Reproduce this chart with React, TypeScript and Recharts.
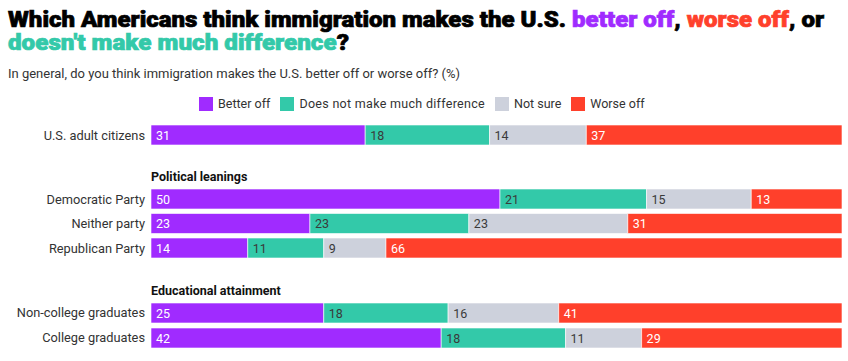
import { BarChart, Bar, XAxis, YAxis, LabelList } from "recharts";

const FONT = "Roboto, 'Noto Sans', sans-serif";

const OVERALL_ROWS = ["U.S. adult citizens"];
const PARTY_ROWS = ["Democratic Party", "Neither party", "Republican Party"];
const EDU_ROWS = ["Non-college graduates", "College graduates"];

// values in row order: overall, party rows, education rows
const BETTER_OFF = [31, 50, 23, 14, 25, 42];
const NO_DIFFERENCE = [18, 21, 23, 11, 18, 18];
const NOT_SURE = [14, 15, 23, 9, 16, 11];
const WORSE_OFF = [37, 13, 31, 66, 41, 29];

const SECTION_TITLES = ["Political leanings", "Educational attainment"];

const SERIES = [
  { key: "better", name: "Better off", color: "#a02bff", label: "#ffffff", values: BETTER_OFF },
  { key: "nodiff", name: "Does not make much difference", color: "#33c9a9", label: "#3a3a3a", values: NO_DIFFERENCE },
  { key: "unsure", name: "Not sure", color: "#cdd1dc", label: "#3a3a3a", values: NOT_SURE },
  { key: "worse", name: "Worse off", color: "#ff402b", label: "#ffffff", values: WORSE_OFF },
];

const ALL_ROWS = [...OVERALL_ROWS, ...PARTY_ROWS, ...EDU_ROWS];
const TABLE = ALL_ROWS.map((label, i) => {
  const row: Record<string, any> = { label };
  SERIES.forEach((s) => (row[s.key] = s.values[i]));
  return row;
});

const nOverall = OVERALL_ROWS.length;
const nParty = PARTY_ROWS.length;
const GROUPS = [
  { rows: TABLE.slice(0, nOverall), top: 123, height: 24 },
  { rows: TABLE.slice(nOverall, nOverall + nParty), top: 186.75, height: 73.5 },
  { rows: TABLE.slice(nOverall + nParty), top: 299.5, height: 50 },
];

function Group({ rows, top, height }: { rows: any[]; top: number; height: number }) {
  return (
    <div style={{ position: "absolute", left: 0, top }}>
      <BarChart
        width={842}
        height={height}
        data={rows}
        layout="vertical"
        stackOffset="expand"
        margin={{ top: 0, right: 0, bottom: 0, left: 0 }}
      >
        <XAxis type="number" domain={[0, 1]} hide />
        <YAxis
          type="category"
          dataKey="label"
          width={151}
          axisLine={false}
          tickLine={false}
          tickSize={0}
          tickMargin={6}
          tick={{ fontSize: 12.8, fill: "#333", fontFamily: FONT }}
        />
        {SERIES.map((s) => (
          <Bar
            key={s.key}
            dataKey={s.key}
            stackId="a"
            fill={s.color}
            stroke="#ffffff"
            strokeWidth={0.6}
            barSize={20}
            isAnimationActive={false}
          >
            <LabelList
              dataKey={s.key}
              content={(p: any) => (
                <text
                  x={Number(p.x) + 5}
                  y={Number(p.y) + Number(p.height) / 2}
                  dominantBaseline="central"
                  fill={s.label}
                  fontSize={12.5}
                  fontFamily={FONT}
                >
                  {p.value}
                </text>
              )}
            />
          </Bar>
        ))}
      </BarChart>
    </div>
  );
}

export default function App() {
  const heavy = { stroke: "currentColor", strokeWidth: 0.7, paintOrder: "stroke" } as const;
  return (
    <div
      style={{
        position: "absolute",
        left: 0,
        top: 0,
        width: 848,
        height: 361,
        background: "#fff",
        fontFamily: FONT,
        overflow: "hidden",
      }}
    >
      <svg width={848} height={361} style={{ position: "absolute", left: 0, top: 0 }}>
        <text x={8} y={27} fontSize={22} fontWeight={900} fontFamily={FONT} fill="#000" color="#000" {...heavy} textLength={816} lengthAdjust="spacingAndGlyphs">
          Which Americans think immigration makes the U.S.{" "}
          <tspan fill={SERIES[0].color} stroke={SERIES[0].color}>better off</tspan>,{" "}
          <tspan fill={SERIES[3].color} stroke={SERIES[3].color}>worse off</tspan>, or
        </text>
        <text x={8} y={50} fontSize={22} fontWeight={900} fontFamily={FONT} fill="#000" color="#000" {...heavy} textLength={341} lengthAdjust="spacingAndGlyphs">
          <tspan fill={SERIES[1].color} stroke={SERIES[1].color}>doesn't make much difference</tspan>?
        </text>
        <text x={8} y={78} fontSize={12.5} fontFamily={FONT} fill="#333" textLength={452} lengthAdjust="spacingAndGlyphs">
          In general, do you think immigration makes the U.S. better off or worse off? (%)
        </text>
        <text x={151} y={181} fontSize={12.5} fontWeight={700} fontFamily={FONT} fill="#111">
          {SECTION_TITLES[0]}
        </text>
        <text x={151} y={294.5} fontSize={12.5} fontWeight={700} fontFamily={FONT} fill="#111">
          {SECTION_TITLES[1]}
        </text>
      </svg>
      <div
        style={{
          position: "absolute",
          left: 199,
          top: 96,
          display: "flex",
          alignItems: "center",
          fontSize: 12.5,
          color: "#333",
          whiteSpace: "nowrap",
        }}
      >
        {SERIES.map((s) => (
          <div key={s.key} style={{ display: "flex", alignItems: "center", marginRight: 10 }}>
            <span style={{ width: 14, height: 14, background: s.color, display: "inline-block", marginRight: 5 }} />
            <span style={{ letterSpacing: s.key === "nodiff" ? 0.3 : 0 }}>{s.name}</span>
          </div>
        ))}
      </div>
      {GROUPS.map((g, i) => (
        <Group key={i} rows={g.rows} top={g.top} height={g.height} />
      ))}
    </div>
  );
}
